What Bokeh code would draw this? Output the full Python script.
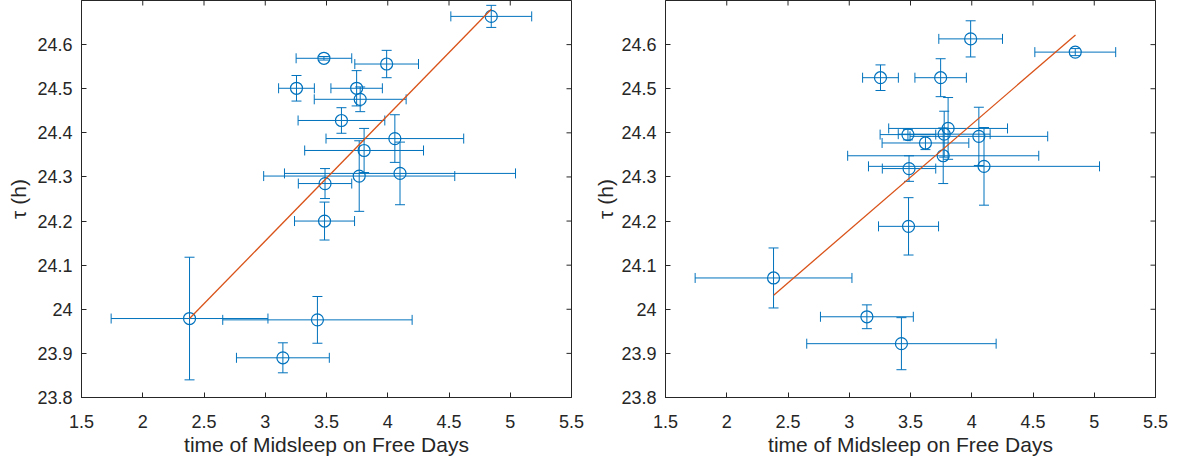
import math
from bokeh.plotting import figure
from bokeh.layouts import row
from bokeh.models import (ColumnDataSource, Whisker, TeeHead, FixedTicker,
                          Range1d)
from bokeh.embed import file_html
from bokeh.resources import INLINE

# ---- data ----
# mid-sleep on free days (shared by both panels) and its error
msf = [4.845, 3.479, 3.991, 3.255, 3.746, 3.775, 3.622, 4.058,
       3.807, 3.767, 4.100, 3.488, 3.484, 2.382, 3.426, 3.144]
msf_err = [0.330, 0.227, 0.260, 0.146, 0.210, 0.375, 0.354, 0.562,
           0.485, 0.780, 0.943, 0.218, 0.245, 0.640, 0.773, 0.379]

# left panel tau and error
tau_a = [24.664, 24.569, 24.556, 24.501, 24.501, 24.476, 24.428, 24.387,
         24.360, 24.302, 24.308, 24.285, 24.200, 23.979, 23.976, 23.890]
tau_a_err = [0.025, 0.004, 0.031, 0.029, 0.040, 0.028, 0.029, 0.054,
             0.050, 0.080, 0.071, 0.034, 0.043, 0.139, 0.053, 0.034]

# right panel tau and error
tau_b = [24.583, 24.396, 24.613, 24.525, 24.525, 24.397, 24.377, 24.392,
         24.410, 24.348, 24.324, 24.319, 24.188, 24.071, 23.922, 23.983]
tau_b_err = [0.008, 0.012, 0.041, 0.029, 0.043, 0.052, 0.015, 0.066,
             0.070, 0.063, 0.088, 0.029, 0.065, 0.068, 0.059, 0.027]

# fitted lines (end points)
fit_a_x = [2.382, 4.845]
fit_a_y = [23.979, 24.680]
fit_b_x = [2.383, 4.847]
fit_b_y = [24.032, 24.622]

x_range = (1.5, 5.5)
y_range = (23.8, 24.7)
x_ticks = [1.5, 2, 2.5, 3, 3.5, 4, 4.5, 5, 5.5]
x_tick_labels = ["1.5", "2", "2.5", "3", "3.5", "4", "4.5", "5", "5.5"]
y_ticks = [23.8, 23.9, 24.0, 24.1, 24.2, 24.3, 24.4, 24.5, 24.6]
y_tick_labels = ["23.8", "23.9", "24", "24.1", "24.2", "24.3", "24.4",
                 "24.5", "24.6"]

x_label = "time of Midsleep on Free Days"
y_label = "τ (h)"

BLUE = "#0072BD"
ORANGE = "#D95319"
AX = "#262626"
FONT = "Liberation Sans"


def style_axis(ax, ticks, labels):
    ax.ticker = FixedTicker(ticks=ticks)
    ax.major_label_overrides = {t: l for t, l in zip(ticks, labels)}
    ax.major_tick_in = 5
    ax.major_tick_out = 0
    ax.minor_tick_in = 0
    ax.minor_tick_out = 0
    ax.axis_line_color = AX
    ax.major_tick_line_color = AX
    ax.axis_line_width = 1
    ax.major_label_text_font = FONT
    ax.major_label_text_font_size = "18px"
    ax.major_label_text_color = AX
    ax.axis_label_text_font = FONT
    ax.axis_label_text_font_size = "21px"
    ax.axis_label_text_font_style = "normal"
    ax.axis_label_text_color = AX


def make_panel(tau, tau_err, fit_x, fit_y, width, left, right, ylab_off):
    p = figure(width=width, height=459,
               x_range=Range1d(*x_range), y_range=Range1d(*y_range),
               min_border_left=left, min_border_right=right,
               min_border_top=0, min_border_bottom=62,
               output_backend="svg", toolbar_location=None)
    p.grid.visible = False
    p.outline_line_color = AX
    p.outline_line_width = 1
    p.background_fill_color = "white"
    p.border_fill_color = "white"

    xb = p.below[0]
    yl = p.left[0]
    style_axis(xb, x_ticks, x_tick_labels)
    style_axis(yl, y_ticks, y_tick_labels)
    xb.axis_label = x_label
    yl.axis_label = y_label
    xb.major_label_standoff = 17
    xb.axis_label_standoff = 2
    yl.major_label_standoff = 9
    yl.axis_label_standoff = ylab_off

    # mirrored tick marks on the top and right edges (half clipped by frame)
    p.scatter(x=x_ticks, y=[y_range[1]] * len(x_ticks), marker="dash",
              angle=math.pi / 2, size=10, line_color=AX, line_width=1)
    p.scatter(x=[x_range[1]] * len(y_ticks), y=y_ticks, marker="dash",
              size=10, line_color=AX, line_width=1)

    src = ColumnDataSource(dict(
        x=msf, y=tau,
        xl=[a - b for a, b in zip(msf, msf_err)],
        xu=[a + b for a, b in zip(msf, msf_err)],
        yl=[a - b for a, b in zip(tau, tau_err)],
        yu=[a + b for a, b in zip(tau, tau_err)],
    ))
    wx = Whisker(source=src, base="y", lower="xl", upper="xu",
                 dimension="width", line_color=BLUE, line_width=1,
                 lower_head=TeeHead(size=10, line_color=BLUE, line_width=1),
                 upper_head=TeeHead(size=10, line_color=BLUE, line_width=1))
    wy = Whisker(source=src, base="x", lower="yl", upper="yu",
                 dimension="height", line_color=BLUE, line_width=1,
                 lower_head=TeeHead(size=10, line_color=BLUE, line_width=1),
                 upper_head=TeeHead(size=10, line_color=BLUE, line_width=1))
    p.add_layout(wx)
    p.add_layout(wy)
    p.scatter("x", "y", source=src, marker="circle", size=12,
              fill_color=None, line_color=BLUE, line_width=1.2)
    p.line(fit_x, fit_y, line_color=ORANGE, line_width=1.3)
    return p


p1 = make_panel(tau_a, tau_a_err, fit_a_x, fit_a_y, 590, 81, 19, 4)
p2 = make_panel(tau_b, tau_b_err, fit_b_x, fit_b_y, 586, 75, 21, 1)

layout = row(p1, p2)
open("out.html", "w").write(file_html(layout, INLINE))
